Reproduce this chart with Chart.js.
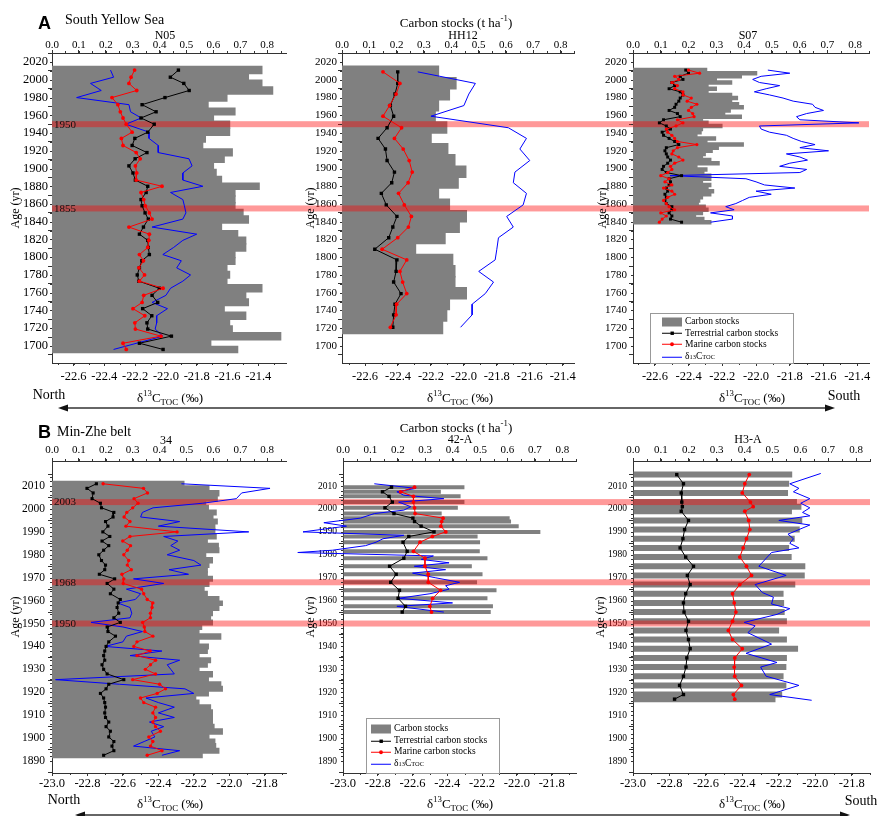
<!DOCTYPE html>
<html>
<head>
<meta charset="utf-8">
<script src="https://cdn.jsdelivr.net/npm/chart.js@4.4.1/dist/chart.umd.min.js"></script>
<style>
body { margin: 0; background: #fff; }
#wrap { position: relative; width: 877px; height: 816px; overflow: hidden; background: #fff;
  font-family: "Liberation Serif", "Times New Roman", serif; color: #000; }
canvas { position: absolute; }
.t { position: absolute; white-space: nowrap; line-height: 1; transform: translate(-50%, -50%); }
.l { position: absolute; white-space: nowrap; line-height: 1; transform: translateY(-50%); }
.r { position: absolute; white-space: nowrap; line-height: 1; transform: translate(-50%, -50%) rotate(-90deg); }
sup, sub { font-size: 0.68em; line-height: 0; }
.legend { position: absolute; box-sizing: border-box; border: 1px solid #999; background: #fff; }
.lg { position: absolute; transform: translateY(-50%); display: flex; align-items: center; font-size: 9.5px; white-space: nowrap; line-height: 1; }
.lg svg { margin-right: 3px; }
</style>
</head>
<body>
<div id="wrap">
  <canvas id="cN05" width="290" height="410" style="left:0;top:0"></canvas>
  <canvas id="cHH12" width="290" height="410" style="left:290px;top:0"></canvas>
  <canvas id="cS07" width="297" height="410" style="left:580px;top:0"></canvas>
  <canvas id="c34" width="290" height="406" style="left:0;top:410px"></canvas>
  <canvas id="c42A" width="290" height="406" style="left:290px;top:410px"></canvas>
  <canvas id="cH3A" width="297" height="406" style="left:580px;top:410px"></canvas>

  <!-- row A text -->
  <div class="t" style="left:44.5px;top:23px;font:bold 18px 'Liberation Sans',Arial,sans-serif">A</div>
  <div class="l" style="left:65px;top:20px;font-size:14px">South Yellow Sea</div>
  <div class="t" style="left:165px;top:35px;font-size:12px">N05</div>
  <div class="t" style="left:456px;top:22px;font-size:13px">Carbon stocks (t ha<sup>-1</sup>)</div>
  <div class="t" style="left:463px;top:35px;font-size:12px">HH12</div>
  <div class="t" style="left:748px;top:35px;font-size:12px">S07</div>
  <div class="r" style="left:15px;top:208px;font-size:12px">Age (yr)</div>
  <div class="r" style="left:310px;top:208px;font-size:12px">Age (yr)</div>
  <div class="r" style="left:602px;top:208px;font-size:12px">Age (yr)</div>
  <div class="t" style="left:170px;top:397px;font-size:13px">&delta;<sup>13</sup>C<sub>TOC</sub> (&permil;)</div>
  <div class="t" style="left:460px;top:397px;font-size:13px">&delta;<sup>13</sup>C<sub>TOC</sub> (&permil;)</div>
  <div class="t" style="left:752px;top:397px;font-size:13px">&delta;<sup>13</sup>C<sub>TOC</sub> (&permil;)</div>
  <div class="t" style="left:49px;top:395px;font-size:14px">North</div>
  <div class="t" style="left:844px;top:396px;font-size:14px">South</div>

  <!-- row B text -->
  <div class="t" style="left:44.5px;top:432px;font:bold 18px 'Liberation Sans',Arial,sans-serif">B</div>
  <div class="l" style="left:57px;top:432px;font-size:14px">Min-Zhe belt</div>
  <div class="t" style="left:166px;top:440px;font-size:12px">34</div>
  <div class="t" style="left:456px;top:427px;font-size:13px">Carbon stocks (t ha<sup>-1</sup>)</div>
  <div class="t" style="left:460px;top:439px;font-size:12px">42-A</div>
  <div class="t" style="left:748px;top:439px;font-size:12px">H3-A</div>
  <div class="r" style="left:15px;top:617px;font-size:12px">Age (yr)</div>
  <div class="r" style="left:310px;top:617px;font-size:12px">Age (yr)</div>
  <div class="r" style="left:600px;top:617px;font-size:12px">Age (yr)</div>
  <div class="t" style="left:170px;top:803px;font-size:13px">&delta;<sup>13</sup>C<sub>TOC</sub> (&permil;)</div>
  <div class="t" style="left:460px;top:803px;font-size:13px">&delta;<sup>13</sup>C<sub>TOC</sub> (&permil;)</div>
  <div class="t" style="left:752px;top:803px;font-size:13px">&delta;<sup>13</sup>C<sub>TOC</sub> (&permil;)</div>
  <div class="t" style="left:64px;top:800px;font-size:14px">North</div>
  <div class="t" style="left:861px;top:801px;font-size:14px">South</div>

  <svg width="877" height="816" style="position:absolute;left:0;top:0;pointer-events:none">
    <line x1="66" y1="408" x2="827" y2="408" stroke="#333" stroke-width="1.3"/>
    <polygon points="58,408 68,404.5 68,411.5" fill="#111"/>
    <polygon points="835,408 825,404.5 825,411.5" fill="#111"/>
    <line x1="83" y1="815" x2="842" y2="815" stroke="#333" stroke-width="1.3"/>
    <polygon points="75,815 85,811.5 85,818.5" fill="#111"/>
    <polygon points="850,815 840,811.5 840,818.5" fill="#111"/>
  </svg>

  <div class="legend" style="left:650px;top:313px;width:144px;height:51px">
    <div class="lg" style="left:11px;top:8px"><svg width="20" height="10"><rect x="0" y="0.5" width="20" height="9" fill="#808080"/></svg>Carbon stocks</div>
    <div class="lg" style="left:11px;top:19.5px"><svg width="20" height="6"><line x1="0" y1="3" x2="20" y2="3" stroke="#000"/><rect x="8.5" y="1.3" width="3.4" height="3.4" fill="#000"/></svg>Terrestrial carbon stocks</div>
    <div class="lg" style="left:11px;top:30.5px"><svg width="20" height="6"><line x1="0" y1="3" x2="20" y2="3" stroke="#f00"/><circle cx="10" cy="3" r="1.9" fill="#f00"/></svg>Marine carbon stocks</div>
    <div class="lg" style="left:11px;top:43px"><svg width="20" height="6"><line x1="0" y1="3" x2="20" y2="3" stroke="#00f"/></svg>&delta;<sup>13</sup>C<sub>TOC</sub></div>
  </div>
  <div class="legend" style="left:366px;top:718px;width:134px;height:56px">
    <div class="lg" style="left:4px;top:10px"><svg width="20" height="10"><rect x="0" y="0.5" width="20" height="9" fill="#808080"/></svg>Carbon stocks</div>
    <div class="lg" style="left:4px;top:22px"><svg width="20" height="6"><line x1="0" y1="3" x2="20" y2="3" stroke="#000"/><rect x="8.5" y="1.3" width="3.4" height="3.4" fill="#000"/></svg>Terrestrial carbon stocks</div>
    <div class="lg" style="left:4px;top:33px"><svg width="20" height="6"><line x1="0" y1="3" x2="20" y2="3" stroke="#f00"/><circle cx="10" cy="3" r="1.9" fill="#f00"/></svg>Marine carbon stocks</div>
    <div class="lg" style="left:4px;top:45px"><svg width="20" height="6"><line x1="0" y1="3" x2="20" y2="3" stroke="#00f"/></svg>&delta;<sup>13</sup>C<sub>TOC</sub></div>
  </div>
</div>

<script>
// ---- tick labels ----
const stockTicks = [0, 0.1, 0.2, 0.3, 0.4, 0.5, 0.6, 0.7, 0.8]
const deltaTicksA = [-22.6, -22.4, -22.2, -22.0, -21.8, -21.6, -21.4]
const deltaTicksB = [-23.0, -22.8, -22.6, -22.4, -22.2, -22.0, -21.8]
const ageTicksA = [1700, 1720, 1740, 1760, 1780, 1800, 1820, 1840, 1860, 1880, 1900, 1920, 1940, 1960, 1980, 2000, 2020]
const ageTicksB = [1890, 1900, 1910, 1920, 1930, 1940, 1950, 1960, 1970, 1980, 1990, 2000, 2010]

// event years (highlighted)
const eventsA = [1950, 1855]
const eventsB = [2003, 1968, 1950]

// ---- N05 ----
const n05Age = [2011, 2003, 1996, 1988, 1980, 1972, 1964, 1957, 1950, 1941, 1934, 1926, 1918, 1911, 1903, 1895, 1887, 1880,
  1873, 1865, 1858, 1850, 1843, 1834, 1826, 1819, 1811, 1803, 1796, 1788, 1780, 1773, 1765, 1757, 1749, 1742, 1734, 1726, 1719, 1711, 1703, 1696]
const n05Stock = [0.78, 0.73, 0.78, 0.82, 0.65, 0.58, 0.68, 0.6, 0.66, 0.66, 0.57, 0.56, 0.67, 0.64, 0.6, 0.61, 0.63, 0.77,
  0.68, 0.68, 0.68, 0.71, 0.73, 0.63, 0.69, 0.72, 0.72, 0.68, 0.68, 0.65, 0.66, 0.65, 0.78, 0.72, 0.73, 0.64, 0.72, 0.66, 0.67, 0.85, 0.59, 0.69]
const n05Terr = [0.47, 0.44, 0.49, 0.51, 0.42, 0.335, 0.387, 0.331, 0.38, 0.356, 0.308, 0.298, 0.353, 0.309, 0.286, 0.301, 0.31, 0.356,
  0.35, 0.331, 0.335, 0.346, 0.358, 0.34, 0.325, 0.356, 0.358, 0.362, 0.334, 0.325, 0.317, 0.323, 0.399, 0.372, 0.393, 0.337, 0.371, 0.353, 0.356, 0.444, 0.325, 0.413]
const n05Mar = [0.307, 0.294, 0.286, 0.315, 0.223, 0.245, 0.254, 0.264, 0.276, 0.298, 0.258, 0.264, 0.313, 0.328, 0.31, 0.315, 0.313, 0.409,
  0.331, 0.341, 0.347, 0.362, 0.372, 0.286, 0.362, 0.36, 0.356, 0.325, 0.34, 0.323, 0.344, 0.325, 0.413, 0.341, 0.335, 0.301, 0.345, 0.308, 0.31, 0.405, 0.264, 0.276]
const n05DeltaAge = [2011, 2003, 1996, 1988, 1980, 1972, 1964, 1957, 1950, 1941, 1934, 1926, 1918, 1911, 1903, 1895, 1887, 1880,
  1873, 1865, 1858, 1850, 1843, 1834, 1826, 1819, 1811, 1803, 1796, 1788, 1780, 1773, 1765, 1757, 1749, 1742, 1734, 1726, 1719, 1711, 1696]
const n05Delta = [-22.36, -22.34, -22.49, -22.42, -22.58, -22.24, -22.23, -22.16, -22.26, -22.11, -22.11, -22.05, -22.05, -21.85, -21.83, -21.89, -21.89, -21.76,
  -21.97, -21.89, -21.88, -21.87, -21.89, -22.09, -21.8, -21.89, -21.95, -22.02, -21.9, -21.93, -21.84, -21.89, -21.97, -22.0, -22.09, -21.99, -22.06, -22.06, -22.07, -22.02, -22.34]

// ---- HH12 ----
const hh12Age = [2009, 1996, 1984, 1971, 1959, 1946, 1934, 1922, 1909, 1896, 1884, 1872, 1859, 1846, 1834, 1822, 1809, 1797, 1784, 1772, 1759, 1747, 1735, 1721]
const hh12Stock = [0.353, 0.417, 0.393, 0.353, 0.341, 0.383, 0.326, 0.387, 0.413, 0.453, 0.425, 0.353, 0.393, 0.455, 0.429, 0.377, 0.269, 0.405, 0.413, 0.413, 0.455, 0.393, 0.383, 0.368]
const hh12Terr = [0.204, 0.204, 0.194, 0.177, 0.189, 0.165, 0.132, 0.159, 0.165, 0.192, 0.182, 0.144, 0.162, 0.201, 0.186, 0.171, 0.12, 0.201, 0.198, 0.189, 0.216, 0.194, 0.189, 0.186]
const hh12Mar = [0.15, 0.212, 0.198, 0.174, 0.15, 0.218, 0.192, 0.224, 0.246, 0.257, 0.242, 0.207, 0.228, 0.254, 0.243, 0.204, 0.147, 0.237, 0.212, 0.222, 0.237, 0.2, 0.198, 0.177]
const hh12Delta = [-22.28, -21.93, -21.97, -22.0, -22.2, -21.73, -21.62, -21.66, -21.6, -21.69, -21.7, -21.62, -21.64, -21.74, -21.7, -21.79, -21.8, -21.81, -21.91, -21.82, -21.87, -21.95, -21.95, -22.02]

// ---- S07 ----
const s07Age = [2011, 2007.5, 2004, 2000.5, 1997, 1993.5, 1990, 1986.5, 1983, 1979.5, 1976, 1972.5, 1969, 1965.5, 1962, 1958.5, 1955, 1951.5, 1948, 1944.5,
  1941, 1937.5, 1934, 1930.5, 1927, 1923.5, 1920, 1916.5, 1913, 1909.5, 1906, 1902.5, 1899, 1895.5, 1892, 1888.5, 1885, 1881.5, 1878, 1874.5,
  1871, 1867.5, 1864, 1860.5, 1857, 1853.5, 1850, 1846.5, 1843, 1839.5]
const s07Stock = [0.265, 0.445, 0.39, 0.3, 0.355, 0.27, 0.3, 0.27, 0.355, 0.376, 0.355, 0.38, 0.397, 0.35, 0.33, 0.39, 0.25, 0.27, 0.32, 0.25,
  0.245, 0.23, 0.297, 0.266, 0.397, 0.307, 0.285, 0.26, 0.25, 0.28, 0.31, 0.23, 0.266, 0.255, 0.28, 0.28, 0.25, 0.28, 0.27, 0.29,
  0.28, 0.25, 0.24, 0.235, 0.26, 0.27, 0.25, 0.225, 0.255, 0.28]
const s07Terr = [0.19, 0.2, 0.17, 0.18, 0.14, 0.15, 0.13, 0.17, 0.18, 0.17, 0.165, 0.155, 0.15, 0.13, 0.16, 0.17, 0.11, 0.095, 0.12, 0.135,
  0.105, 0.11, 0.13, 0.15, 0.165, 0.12, 0.115, 0.12, 0.125, 0.135, 0.125, 0.11, 0.105, 0.12, 0.175, 0.13, 0.135, 0.13, 0.12, 0.125,
  0.115, 0.12, 0.115, 0.12, 0.14, 0.14, 0.13, 0.14, 0.135, 0.175]
const s07Mar = [0.2, 0.24, 0.15, 0.165, 0.14, 0.16, 0.15, 0.18, 0.18, 0.21, 0.195, 0.23, 0.21, 0.2, 0.215, 0.22, 0.16, 0.18, 0.155, 0.12,
  0.125, 0.14, 0.15, 0.16, 0.23, 0.16, 0.145, 0.14, 0.165, 0.18, 0.15, 0.135, 0.14, 0.125, 0.1, 0.13, 0.115, 0.14, 0.11, 0.14,
  0.15, 0.125, 0.11, 0.12, 0.13, 0.15, 0.1, 0.12, 0.105, 0.095]
const s07Delta = [-21.93, -21.8, -21.97, -22.02, -21.98, -21.86, -21.94, -22.01, -21.92, -21.84, -21.78, -21.665, -21.65, -21.6, -21.7, -21.76, -21.74, -21.39, -21.98, -21.97,
  -21.92, -21.82, -21.78, -21.73, -21.65, -21.74, -21.57, -21.82, -21.74, -21.695, -21.8, -21.86, -21.7, -21.74, -22.51, -22.06, -22.0, -21.95, -21.77, -22.0,
  -21.91, -22.04, -22.08, -22.12, -22.18, -22.13, -22.27, -22.14, -22.14, -22.27]

// ---- 34 ----
const p34Age = [2011, 2009, 2007, 2004.5, 2002.5, 2000.5, 1998.5, 1996.5, 1994.5, 1992.5, 1990, 1988, 1986, 1984, 1982, 1980, 1977.5, 1975.5, 1973.5, 1971.5,
  1969.5, 1967.5, 1965, 1963, 1960.5, 1959, 1957, 1954.5, 1952.5, 1950.5, 1948.5, 1946.5, 1944.5, 1942, 1940, 1938, 1936, 1934, 1932, 1930,
  1928, 1925.5, 1923.5, 1921.5, 1919.5, 1917.5, 1915.5, 1913.5, 1911, 1909, 1907, 1905, 1903, 1900.5, 1898.5, 1896.5, 1894.5, 1892.5]
const p34Stock = [0.49, 0.583, 0.62, 0.614, 0.571, 0.581, 0.61, 0.598, 0.614, 0.605, 0.605, 0.61, 0.577, 0.618, 0.62, 0.571, 0.596, 0.583, 0.577, 0.577,
  0.596, 0.583, 0.565, 0.577, 0.62, 0.633, 0.62, 0.596, 0.589, 0.596, 0.556, 0.546, 0.627, 0.546, 0.581, 0.577, 0.546, 0.589, 0.577, 0.546,
  0.596, 0.581, 0.627, 0.633, 0.581, 0.534, 0.546, 0.589, 0.596, 0.596, 0.596, 0.602, 0.633, 0.583, 0.605, 0.608, 0.62, 0.558]
const p34Terr = [0.165, 0.13, 0.153, 0.149, 0.18, 0.184, 0.23, 0.227, 0.199, 0.208, 0.189, 0.215, 0.186, 0.211, 0.192, 0.174, 0.184, 0.199, 0.196, 0.176,
  0.233, 0.205, 0.23, 0.217, 0.254, 0.246, 0.242, 0.248, 0.23, 0.254, 0.205, 0.208, 0.236, 0.211, 0.201, 0.196, 0.192, 0.196, 0.186, 0.192,
  0.205, 0.267, 0.211, 0.201, 0.18, 0.192, 0.196, 0.199, 0.196, 0.199, 0.211, 0.201, 0.217, 0.211, 0.23, 0.223, 0.23, 0.192]
const p34Mar = [0.19, 0.34, 0.355, 0.305, 0.32, 0.3, 0.278, 0.268, 0.29, 0.275, 0.465, 0.29, 0.263, 0.292, 0.28, 0.267, 0.285, 0.28, 0.295, 0.26,
  0.267, 0.265, 0.333, 0.341, 0.354, 0.375, 0.372, 0.366, 0.366, 0.337, 0.343, 0.345, 0.375, 0.316, 0.304, 0.365, 0.316, 0.385, 0.366, 0.347,
  0.385, 0.3, 0.4, 0.422, 0.391, 0.329, 0.341, 0.385, 0.375, 0.385, 0.375, 0.385, 0.403, 0.36, 0.375, 0.366, 0.409, 0.354]
const p34Delta = [-22.27, -21.77, -21.93, -21.96, -22.15, -22.43, -22.49, -22.5, -22.28, -22.4, -21.89, -22.37, -22.29, -22.33, -22.28, -22.35, -22.2, -22.16, -22.34, -22.23,
  -22.54, -22.37, -22.58, -22.5, -22.53, -22.63, -22.56, -22.55, -22.56, -22.78, -22.6, -22.49, -22.58, -22.6, -22.7, -22.38, -22.56, -22.28, -22.35, -22.33,
  -22.31, -22.98, -22.62, -22.25, -22.2, -22.47, -22.4, -22.31, -22.4, -22.31, -22.45, -22.37, -22.44, -22.42, -22.48, -22.54, -22.28, -22.38]

// ---- 42-A ----
const p42Age = [2009.5, 2007.5, 2005.5, 2003, 2000.5, 1998, 1996, 1994.5, 1992.5, 1990, 1988, 1985.5, 1981.5, 1978.5, 1975, 1971.5, 1968, 1964.5, 1961, 1957.5, 1955]
const p42Stock = [0.443, 0.357, 0.429, 0.443, 0.419, 0.36, 0.608, 0.613, 0.641, 0.72, 0.491, 0.5, 0.499, 0.527, 0.47, 0.509, 0.489, 0.56, 0.527, 0.547, 0.539]
const p42Terr = [0.177, 0.144, 0.168, 0.18, 0.153, 0.186, 0.255, 0.261, 0.285, 0.332, 0.24, 0.219, 0.234, 0.222, 0.17, 0.194, 0.174, 0.206, 0.201, 0.228, 0.216]
const p42Mar = [0.261, 0.21, 0.257, 0.257, 0.261, 0.263, 0.365, 0.36, 0.357, 0.375, 0.326, 0.281, 0.257, 0.299, 0.299, 0.311, 0.311, 0.356, 0.327, 0.317, 0.323]
const p42DeltaAge = [2011, 2009, 2007.5, 2006, 2004.5, 2003, 2001, 1999.5, 1998, 1996, 1994, 1992.5, 1990, 1988.5, 1987, 1985.5, 1984, 1982, 1981, 1979.5,
  1978, 1976.5, 1975, 1973.5, 1972, 1970, 1968, 1966.5, 1965, 1963, 1961, 1959, 1957.5, 1955]
const p42Delta = [-22.82, -22.58, -22.69, -22.65, -22.42, -22.68, -22.61, -22.65, -22.82, -22.9, -23.11, -22.98, -23.23, -22.65, -22.77, -22.81, -22.87, -23.06, -23.26, -22.48,
  -22.55, -22.39, -22.59, -22.41, -22.6, -22.47, -22.33, -22.41, -22.39, -22.5, -22.68, -22.37, -22.69, -22.42]

// ---- H3-A ----
const h3Age = [2015, 2011, 2007, 2003, 2001, 1999, 1995, 1991, 1987, 1983, 1979, 1975, 1971, 1967, 1963, 1959, 1955, 1951, 1947, 1943, 1939, 1935, 1931, 1927, 1923, 1919, 1917]
const h3Stock = [0.571, 0.56, 0.556, 0.588, 0.604, 0.57, 0.607, 0.598, 0.58, 0.56, 0.569, 0.618, 0.616, 0.582, 0.54, 0.542, 0.544, 0.552, 0.524, 0.552, 0.592, 0.552, 0.55, 0.54, 0.55, 0.535, 0.511]
const h3Terr = [0.157, 0.181, 0.173, 0.175, 0.177, 0.173, 0.199, 0.185, 0.179, 0.169, 0.189, 0.217, 0.195, 0.205, 0.189, 0.181, 0.183, 0.199, 0.19, 0.199, 0.205, 0.193, 0.19, 0.181, 0.167, 0.181, 0.149]
const h3Mar = [0.417, 0.401, 0.392, 0.421, 0.431, 0.401, 0.415, 0.419, 0.407, 0.395, 0.383, 0.407, 0.425, 0.383, 0.357, 0.363, 0.369, 0.357, 0.342, 0.357, 0.392, 0.365, 0.363, 0.365, 0.389, 0.36, 0.365]
const h3DeltaAge = [2015.5, 2011, 2009, 2007.5, 2004.5, 2002.5, 2000.5, 1998.5, 1997, 1995, 1993, 1989, 1987, 1985, 1983, 1981, 1975, 1971, 1967, 1963.5,
  1961.5, 1958.5, 1956.5, 1954, 1950.5, 1949, 1946, 1941, 1937, 1933, 1931, 1927, 1923, 1919, 1916.5]
const h3Delta = [-21.97, -22.14, -22.09, -22.12, -22.03, -22.08, -22.03, -22.07, -22.03, -22.2, -22.03, -22.15, -22.12, -22.14, -22.09, -22.24, -22.31, -22.16, -22.33, -22.29,
  -22.23, -22.24, -22.14, -22.21, -22.39, -22.33, -22.37, -22.24, -22.38, -22.21, -22.3, -22.27, -22.09, -22.25, -22.02]

Chart.defaults.font.family = '"Liberation Serif", "Times New Roman", serif'
Chart.defaults.color = '#000'

const pts = (ages, vals) => ages.map((a, i) => ({ x: vals[i], y: a }))
const fixTicks = list => s => { s.ticks = list.map(v => ({ value: v })) }

// red highlight bands for the event years, drawn over the bars
const bandPlugin = {
  id: 'bands',
  afterDatasetDraw(chart, args, opts) {
    if (args.meta.type !== 'bar') return
    const ctx = chart.ctx
    const a = chart.chartArea
    const ys = chart.scales.y
    const x0 = opts.fromArea ? a.left : 0
    const x1 = opts.toArea ? a.right : chart.width
    ctx.save()
    ctx.fillStyle = 'rgba(255, 0, 0, 0.4)'
    opts.years.forEach(yr => {
      const p = ys.getPixelForValue(yr)
      ctx.fillRect(x0, p - opts.h / 2, x1 - x0, opts.h)
    })
    if (opts.labels) {
      ctx.fillStyle = '#111'
      ctx.font = '11px "Liberation Serif", serif'
      ctx.textBaseline = 'middle'
      opts.years.forEach(yr => ctx.fillText(String(yr), a.left + 2, ys.getPixelForValue(yr) + 0.5))
    }
    ctx.restore()
  }
}

// small minor ticks like the Origin axes
const minorPlugin = {
  id: 'minorTicks',
  afterDraw(chart, args, opts) {
    const ctx = chart.ctx
    const a = chart.chartArea
    ctx.save()
    ctx.strokeStyle = '#333'
    ctx.lineWidth = 1
    ctx.beginPath()
    Object.keys(opts.steps).forEach(id => {
      const s = chart.scales[id]
      const step = opts.steps[id]
      for (let v = Math.ceil(s.min / step - 1e-6) * step; v <= s.max + 1e-9; v += step) {
        const p = Math.round(s.getPixelForValue(v)) + 0.5
        if (id === 'x') { ctx.moveTo(p, a.top); ctx.lineTo(p, a.top - 2) }
        else if (id === 'x2') { ctx.moveTo(p, a.bottom); ctx.lineTo(p, a.bottom + 2) }
        else { ctx.moveTo(a.left, p); ctx.lineTo(a.left - 2, p) }
      }
    })
    ctx.stroke()
    ctx.restore()
  }
}

function drawPanel(id, p) {
  const line = { display: true, color: '#333', width: 1 }
  const grid = len => ({ drawOnChartArea: false, drawTicks: true, tickLength: len, color: '#333' })
  return new Chart(document.getElementById(id), {
    type: 'bar',
    plugins: [bandPlugin, minorPlugin],
    data: {
      datasets: [
        {
          type: 'bar', indexAxis: 'y', data: pts(p.age, p.stock), xAxisID: 'x', yAxisID: 'y',
          backgroundColor: '#808080', borderWidth: 0, inflateAmount: p.barThickness ? 0 : 0.7,
          barThickness: p.barThickness || 'flex', barPercentage: 1, categoryPercentage: 1, order: 4
        },
        {
          type: 'line', indexAxis: 'y', data: pts(p.dAge, p.delta), xAxisID: 'x2', yAxisID: 'y',
          borderColor: '#0000ff', borderWidth: 1, pointRadius: 0, tension: 0, clip: false, order: 3
        },
        {
          type: 'line', indexAxis: 'y', data: pts(p.age, p.terr), xAxisID: 'x', yAxisID: 'y',
          borderColor: '#000', borderWidth: 1, pointStyle: 'rect', pointRadius: p.dot + 0.5,
          pointBackgroundColor: '#000', pointBorderWidth: 0, tension: 0, order: 2
        },
        {
          type: 'line', indexAxis: 'y', data: pts(p.age, p.mar), xAxisID: 'x', yAxisID: 'y',
          borderColor: '#ff0000', borderWidth: 1, pointStyle: 'circle', pointRadius: p.dot,
          pointBackgroundColor: '#ff0000', pointBorderWidth: 0, tension: 0, order: 1
        }
      ]
    },
    options: {
      indexAxis: 'y',
      responsive: false,
      animation: false,
      devicePixelRatio: 1,
      layout: { padding: { left: 0, right: p.padRight, top: 0, bottom: 0 } },
      plugins: {
        legend: { display: false },
        tooltip: { enabled: false },
        bands: { years: p.events, h: p.bandH, fromArea: p.col === 1, toArea: p.col === 3, labels: p.col === 1 },
        minorTicks: { steps: { x: 0.05, x2: 0.1, y: p.ageMinor } }
      },
      scales: {
        x: {
          type: 'linear', position: 'top', min: 0, max: p.stockMax,
          afterBuildTicks: fixTicks(stockTicks),
          afterFit: s => { s.height = p.topH },
          grid: grid(3), border: line,
          ticks: { font: { size: 11, lineHeight: 1 }, padding: p.topPad, maxRotation: 0, autoSkip: false, callback: v => v.toFixed(1) }
        },
        x2: {
          type: 'linear', position: 'bottom', min: p.dMin, max: p.dMax,
          afterBuildTicks: fixTicks(p.dTicks),
          afterFit: s => { s.height = p.botH },
          grid: grid(3), border: line,
          ticks: { font: { size: 12.5, lineHeight: 1 }, padding: p.botPad, maxRotation: 0, autoSkip: false, callback: v => v.toFixed(1) }
        },
        y: {
          type: 'linear', position: 'left', min: p.ageMin, max: p.ageMax,
          afterBuildTicks: fixTicks(p.ageTicks),
          afterFit: s => { s.width = p.yW },
          grid: grid(4), border: line,
          ticks: { font: { size: p.yFont, lineHeight: 1 }, padding: p.yPad, autoSkip: false, callback: v => String(v) }
        }
      }
    }
  })
}

const rowA = { events: eventsA, bandH: 6, ageMin: 1691, ageMax: 2020, ageTicks: ageTicksA, ageMinor: 10,
  dTicks: deltaTicksA, topH: 53, botH: 47, topPad: -1, botPad: 4, dot: 1.9 }
const rowB = { events: eventsB, bandH: 6, ageMin: 1890, ageMax: 2015.7, ageTicks: ageTicksB, ageMinor: 2,
  dTicks: deltaTicksB, topH: 51, botH: 43, topPad: 2, botPad: 1, dot: 1.9 }

drawPanel('cN05', Object.assign({}, rowA, { col: 1, yW: 52, padRight: 2, stockMax: 0.87, dMin: -22.74, dMax: -21.22, yFont: 12.5, yPad: 0,
  age: n05Age, stock: n05Stock, terr: n05Terr, mar: n05Mar, dAge: n05DeltaAge, delta: n05Delta }))
drawPanel('cHH12', Object.assign({}, rowA, { col: 2, yW: 52, padRight: 1, stockMax: 0.85, dMin: -22.74, dMax: -21.33, yFont: 11, yPad: 1,
  age: hh12Age, stock: hh12Stock, terr: hh12Terr, mar: hh12Mar, dAge: hh12Age, delta: hh12Delta }))
drawPanel('cS07', Object.assign({}, rowA, { col: 3, yW: 53, padRight: 8, stockMax: 0.85, dMin: -22.73, dMax: -21.33, yFont: 11, yPad: 2, dot: 1.6,
  age: s07Age, stock: s07Stock, terr: s07Terr, mar: s07Mar, dAge: s07Age, delta: s07Delta }))
drawPanel('c34', Object.assign({}, rowB, { col: 1, yW: 52, padRight: 2, stockMax: 0.87, dMin: -23.0, dMax: -21.68, yFont: 11.5, yPad: 3, dot: 1.7,
  age: p34Age, stock: p34Stock, terr: p34Terr, mar: p34Mar, dAge: p34Age, delta: p34Delta }))
drawPanel('c42A', Object.assign({}, rowB, { col: 2, yW: 53, padRight: 1, stockMax: 0.85, dMin: -23.0, dMax: -21.66, yFont: 9.5, yPad: 2, barThickness: 4,
  age: p42Age, stock: p42Stock, terr: p42Terr, mar: p42Mar, dAge: p42DeltaAge, delta: p42Delta }))
drawPanel('cH3A', Object.assign({}, rowB, { col: 3, yW: 53, padRight: 7, stockMax: 0.85, dMin: -23.0, dMax: -21.70, yFont: 9.5, yPad: 2, barThickness: 6,
  age: h3Age, stock: h3Stock, terr: h3Terr, mar: h3Mar, dAge: h3DeltaAge, delta: h3Delta }))
</script>
</body>
</html>
